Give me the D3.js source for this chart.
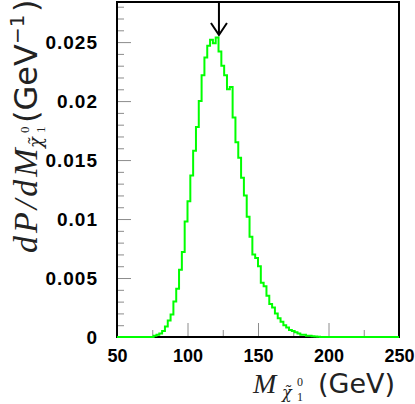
<!DOCTYPE html>
<html>
<head>
<meta charset="utf-8">
<script src="https://cdn.jsdelivr.net/npm/d3@7"></script>
<style>
  body { margin: 0; background: #fff; }
  svg { display: block; }
  .tick text { font-family: "Liberation Sans", Arial, sans-serif; font-weight: bold; font-size: 18px; fill: #000; }
  .yax .tick text { font-size: 19px; letter-spacing: 1px; }
  .tick line { stroke: #8c8c8c; stroke-width: 1; }
</style>
</head>
<body>
<div id="chart"></div>
<script>
// histogram of the neutralino mass, 2 GeV bins (lower edges)
const binWidth = 2;
const massBins = d3.range(74, 196, binWidth);
const density = [
  0, 0.0001, 0.0002, 0.0003, 0.0005, 0.0009, 0.0014, 0.0019, 0.0030, 0.0041,
  0.0057, 0.0072, 0.0098, 0.0115, 0.0137, 0.0158, 0.0178, 0.0200, 0.0222, 0.0237,
  0.0247, 0.0252, 0.0249, 0.0254, 0.0242, 0.0230, 0.0222, 0.0210, 0.0212, 0.0186,
  0.0165, 0.0152, 0.0135, 0.0120, 0.0102, 0.0085, 0.0070, 0.0067, 0.0060, 0.0046,
  0.0043, 0.0035, 0.0028, 0.0025, 0.0020, 0.0016, 0.0013, 0.0010, 0.0008, 0.0006,
  0.0005, 0.0004, 0.0003, 0.0002, 0.0002, 0.0001, 0.0001, 0.00006, 0.00004, 0.00002,
  0
];

// arrow marking the nominal mass
const arrowMass = 122.3;
const arrowTip = 0.0256;

const xMajor = [50, 100, 150, 200, 250];
const xMinor = [75, 125, 175, 225];
const yMajor = [0, 0.005, 0.01, 0.015, 0.02, 0.025];
const yMinor = [0.001, 0.002, 0.003, 0.004, 0.006, 0.007, 0.008, 0.009, 0.011, 0.012,
  0.013, 0.014, 0.016, 0.017, 0.018, 0.019, 0.021, 0.022, 0.023, 0.024, 0.026, 0.027, 0.028];
const yLabels = ["0", "0.005", "0.01", "0.015", "0.02", "0.025"];

const W = 415, H = 404;
const margin = { top: 2, right: 16, bottom: 67, left: 117 };
const width = W - margin.left - margin.right;
const height = H - margin.top - margin.bottom;

const svg = d3.select("#chart").append("svg")
  .attr("width", W)
  .attr("height", H);

const g = svg.append("g")
  .attr("transform", `translate(${margin.left},${margin.top})`);

const x = d3.scaleLinear().domain([50, 250]).range([0, width]);
const y = d3.scaleLinear().domain([0, 0.0284]).range([height, 0]);

// minor ticks
g.append("g")
  .attr("transform", `translate(0,${height})`)
  .call(d3.axisBottom(x).tickValues(xMinor).tickSize(-7).tickFormat(""))
  .call(s => s.select(".domain").remove());
g.append("g")
  .call(d3.axisLeft(y).tickValues(yMinor).tickSize(-7).tickFormat(""))
  .call(s => s.select(".domain").remove());

// major ticks + labels
g.append("g")
  .attr("transform", `translate(0,${height})`)
  .call(d3.axisBottom(x).tickValues(xMajor).tickSize(-14).tickPadding(12).tickFormat(d3.format("d")))
  .call(s => s.select(".domain").remove())
  .call(s => s.selectAll("text").attr("font-family", null).attr("font-size", null));
g.append("g")
  .attr("class", "yax")
  .call(d3.axisLeft(y).tickValues(yMajor).tickSize(-14).tickPadding(19)
    .tickFormat((d, i) => yLabels[i]))
  .call(s => s.select(".domain").remove())
  .call(s => s.selectAll("text").attr("font-family", null).attr("font-size", null));

// frame
g.append("rect")
  .attr("x", 0).attr("y", 0)
  .attr("width", width).attr("height", height)
  .attr("fill", "none")
  .attr("stroke", "#000")
  .attr("stroke-width", 2);

// histogram outline
const pts = [[50, 0]];
massBins.forEach((m, i) => pts.push([m, density[i]]));
pts.push([massBins[massBins.length - 1] + binWidth, 0]);
pts.push([250, 0]);

const line = d3.line()
  .x(d => x(d[0]))
  .y(d => y(d[1]))
  .curve(d3.curveStepAfter);

g.append("path")
  .datum(pts)
  .attr("d", line)
  .attr("fill", "none")
  .attr("stroke", "#00ff00")
  .attr("stroke-width", 2);

// arrow
const ax = x(arrowMass), ay = y(arrowTip);
g.append("path")
  .attr("d", `M${ax},0 L${ax},${ay} M${ax - 8},${ay - 12} L${ax},${ay} L${ax + 8},${ay - 12}`)
  .attr("fill", "none")
  .attr("stroke", "#000")
  .attr("stroke-width", 2);

// axis titles
const serif = "'Liberation Serif', 'Times New Roman', serif";
const dserif = "'DejaVu Serif', serif";
const sans = "'DejaVu Sans', sans-serif";

function piece(parent, txt, px, py, size, family, italic, extra) {
  const t = parent.append("text")
    .attr("x", px).attr("y", py)
    .attr("font-family", family)
    .attr("font-size", size)
    .attr("font-style", italic ? "italic" : "normal")
    .attr("fill", "#222")
    .text(txt);
  if (extra) t.attr("letter-spacing", extra);
  return t;
}

// chi with combining tilde
const chi = "\u03C7\u0303";

const xt = svg.append("g");
piece(xt, "M", 253, 393, 28, serif, true);
piece(xt, chi, 282, 398, 16, dserif, true);
piece(xt, "0", 297, 386, 12, serif, false);
piece(xt, "1", 297, 401, 12, serif, false);
piece(xt, "(GeV)", 318, 393, 27, sans, false);

const yt = svg.append("g").attr("transform", "translate(37,253) rotate(-90)");
piece(yt, "dP/dM", 0, 0, 34, serif, true, 3);
piece(yt, chi, 105, 5, 18, dserif, true);
piece(yt, "0", 120, -8, 13, serif, false);
piece(yt, "1", 120, 8, 13, serif, false);
piece(yt, "(GeV", 130, 0, 32, sans, false);
piece(yt, "\u22121", 209, -13, 20, sans, false);
piece(yt, ")", 241, 0, 32, sans, false);
</script>
</body>
</html>
